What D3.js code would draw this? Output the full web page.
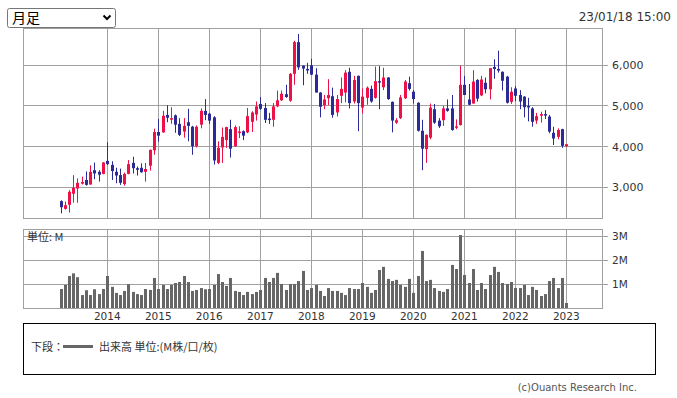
<!DOCTYPE html>
<meta charset="utf-8">
<style>
body { margin: 0; background: #fff; }
svg text { font-family: "DejaVu Sans", sans-serif; }
svg .jp { font-family: "Noto Sans CJK JP", sans-serif; }
</style>
<svg width="677" height="398"></svg>
<script src="https://cdnjs.cloudflare.com/ajax/libs/d3/7.8.5/d3.min.js"></script>
<script>

// monthly candles, Feb 2013 .. Jan 2023
var opens = [2660,2470,2570,2840,2970,3090,3180,3070,3420,3380,3330,
  3650,3550,3380,3300,3080,3330,3600,3470,3480,3380,3530,3910,
  4360,4350,4780,4680,4770,4560,4370,4600,4490,4010,4540,4880,
  4810,4720,3600,3980,4160,4430,4010,4350,4380,4350,4610,4790,
  5050,4950,4690,4660,4990,5140,5290,5130,5790,6570,5990,5910,
  6000,5770,5330,5020,5190,5240,4840,5250,5330,5840,5110,5740,
  4960,5200,5420,5200,5610,5460,5700,5100,4590,4700,5190,5560,
  5350,5080,4390,3940,4220,4920,4640,4650,4940,4940,4470,4530,
  5520,5160,5060,5640,5260,5570,5410,5960,5910,5840,5720,5100,
  5430,5270,5230,5000,4940,4640,4760,4800,4740,4340,4240,4430,
  4010];
var highs = [2680,2650,2930,3300,3220,3260,3390,3540,3610,3420,3620,
  4110,3640,3480,3460,3360,3670,3750,3510,3590,3600,3930,4440,
  4680,4880,5020,4970,4790,4700,4700,4930,4510,4520,4940,5170,
  4830,4750,4130,4470,4490,4660,4520,4500,4400,4950,4870,5110,
  5220,5070,4830,5070,5380,5380,5520,5810,6600,6770,6000,6060,
  6160,5930,5340,5270,5660,5450,5270,5700,5880,5940,5740,5750,
  5430,5480,5500,5970,5980,5940,5710,5110,4700,5270,5640,5720,
  5390,5090,4660,4300,5060,5050,4700,5000,5160,5270,4670,5990,
  5740,5540,5880,5660,5740,5700,5930,6150,6360,5850,5740,5460,
  5490,5390,5240,5200,4970,4830,4860,4900,4780,4490,4450,4440,
  4070];
var lows = [2360,2450,2380,2620,2620,3070,3040,3060,3200,3140,3320,
  3550,3180,3100,3060,3040,3320,3340,3290,3360,3140,3410,3800,
  4120,4340,4600,4560,4340,4260,4220,4130,3800,3980,4450,4650,
  4560,3560,3570,3600,3970,3730,3990,4210,4160,4330,4360,4640,
  4900,4580,4560,4490,4970,5120,5200,5100,5520,5890,5510,5790,
  5760,5330,4720,4920,5020,4710,4740,5070,5090,4940,5060,4380,
  4820,5030,5080,5180,4920,5390,5150,4350,4560,4680,5170,5380,
  5060,4370,3420,3600,4180,4560,4460,4510,4860,4390,4430,4520,
  5270,5020,5060,5110,5240,5310,5160,5670,5820,5380,5060,5050,
  5120,4920,4720,4620,4490,4560,4590,4680,4330,4040,4180,3970,
  3990];
var closes = [2510,2560,2890,2990,3110,3130,3060,3380,3340,3310,3610,
  3570,3400,3290,3110,3330,3570,3470,3430,3370,3450,3920,4360,
  4270,4760,4710,4700,4540,4290,4510,4510,4010,4490,4880,4780,
  4640,3660,3970,4240,4480,3950,4480,4370,4270,4750,4840,4990,
  4930,4660,4670,4990,5140,5300,5220,5790,6570,5950,5920,5890,
  5770,5330,4980,5160,5270,4780,5170,5420,5820,5070,5640,5070,
  5230,5450,5110,5610,5580,5700,5170,4640,4650,5210,5600,5420,
  5170,4390,3950,4290,4960,4590,4500,4940,4880,4410,4500,5520,
  5270,5030,5600,5180,5650,5410,5930,5910,5870,5620,5080,5350,
  5250,5110,4970,4970,4610,4750,4800,4770,4370,4200,4410,4020,
  4060];
// volume, millions
var volumes = [0.80,0.97,1.34,1.45,1.29,0.55,0.75,0.55,0.79,0.59,0.80,
  1.34,0.89,0.64,0.55,0.72,1.00,0.68,0.59,0.55,0.80,0.76,1.26,
  0.80,0.97,0.80,0.97,1.05,1.09,1.34,1.09,0.72,0.76,0.84,0.79,
  0.80,0.97,1.42,1.09,0.93,1.26,0.72,0.68,0.55,0.68,0.59,0.68,
  0.76,1.26,1.09,1.26,1.47,1.01,0.76,1.01,1.01,1.13,1.55,0.76,
  0.84,0.97,0.72,0.51,0.84,0.72,0.72,0.64,0.55,0.84,0.80,0.80,
  1.05,0.89,0.64,0.76,1.59,1.72,1.22,1.13,1.18,0.97,0.89,1.22,
  0.64,1.34,2.38,1.13,1.18,0.84,0.72,0.68,0.80,1.80,1.63,3.04,
  1.38,1.05,1.63,0.76,1.05,0.80,1.38,1.72,1.51,1.05,1.01,1.09,
  0.84,0.84,0.97,0.55,0.89,0.76,0.51,0.59,1.13,1.26,0.84,1.26,
  0.22];

var years = [2014,2015,2016,2017,2018,2019,2020,2021,2022,2023];
var priceTicks = [3000,4000,5000,6000];
var volTicks = [1,2,3];

var months = d3.timeMonth.range(new Date(2013, 1, 1), new Date(2023, 1, 1));
var data = months.map((m, i) => ({date: m, o: opens[i], h: highs[i], l: lows[i], c: closes[i], v: volumes[i]}));

var svg = d3.select("svg"),
    grid = "#a0a0a0",
    up = "#ee1148",
    down = "#2b2b98";

var x = d3.scaleTime()
    .domain([new Date(2014, 0, 1), new Date(2023, 0, 1)])
    .range([107.3, 566.3]);
var y = d3.scaleLinear().domain([3000, 6000]).range([187.3, 65.3]);
var yv = d3.scaleLinear().domain([0, 3]).range([308.3, 236]);

var px = v => Math.floor(v) + 0.5;

// ---- header
var sel = svg.append("g");
sel.append("rect").attr("x", 7.5).attr("y", 8.5).attr("width", 108).attr("height", 19)
  .attr("rx", 2).attr("fill", "#fff").attr("stroke", "#767676");
sel.append("text").attr("class", "jp").attr("x", 12).attr("y", 23)
  .attr("font-size", 14).attr("fill", "#000").text("月足");
sel.append("path").attr("d", "M103.5,15.5 L107,19 L110.5,15.5")
  .attr("fill", "none").attr("stroke", "#000").attr("stroke-width", 2);

svg.append("text").attr("x", 671).attr("y", 21).attr("text-anchor", "end")
  .attr("font-size", 12).attr("fill", "#333").text("23/01/18 15:00");

// ---- price panel
var pg = svg.append("g");
pg.selectAll(".hg").data(priceTicks).join("line")
  .attr("x1", 23).attr("x2", 608)
  .attr("y1", d => px(y(d))).attr("y2", d => px(y(d)))
  .attr("stroke", grid);
pg.selectAll(".vg").data(years).join("line")
  .attr("x1", d => px(x(new Date(d, 0, 1)))).attr("x2", d => px(x(new Date(d, 0, 1))))
  .attr("y1", 28).attr("y2", 218)
  .attr("stroke", grid);
pg.append("rect").attr("x", 23.5).attr("y", 28.5).attr("width", 579).attr("height", 190)
  .attr("fill", "none").attr("stroke", grid);
pg.selectAll(".pl").data(priceTicks).join("text")
  .attr("x", 612).attr("y", d => y(d) + 4)
  .attr("font-size", 11).attr("fill", "#333")
  .text(d => d3.format(",")(d));

var candle = pg.selectAll(".c").data(data).join("g")
  .attr("fill", d => d.c >= d.o ? up : down)
  .attr("stroke", d => d.c >= d.o ? up : down);
candle.append("line")
  .attr("x1", d => Math.round(x(d.date)) + 0.5).attr("x2", d => Math.round(x(d.date)) + 0.5)
  .attr("y1", d => y(d.h)).attr("y2", d => y(d.l));
candle.append("rect")
  .attr("stroke", "none")
  .attr("x", d => Math.round(x(d.date)) - 1).attr("width", 3)
  .attr("y", d => y(Math.max(d.o, d.c)))
  .attr("height", d => Math.max(1.5, Math.abs(y(d.o) - y(d.c))));

// ---- volume panel
var vg = svg.append("g");
vg.selectAll(".hg").data(volTicks).join("line")
  .attr("x1", 23).attr("x2", 608)
  .attr("y1", d => px(yv(d))).attr("y2", d => px(yv(d)))
  .attr("stroke", grid);
vg.selectAll(".vg").data(years).join("line")
  .attr("x1", d => px(x(new Date(d, 0, 1)))).attr("x2", d => px(x(new Date(d, 0, 1))))
  .attr("y1", 229).attr("y2", 308)
  .attr("stroke", grid);
vg.selectAll(".b").data(data).join("rect")
  .attr("x", d => Math.round(x(d.date)) - 1).attr("width", 3)
  .attr("y", d => yv(d.v)).attr("height", d => yv(0) - yv(d.v))
  .attr("fill", "#666");
vg.append("rect").attr("x", 23.5).attr("y", 229.5).attr("width", 579).attr("height", 79)
  .attr("fill", "none").attr("stroke", grid);
vg.selectAll(".vl").data(volTicks).join("text")
  .attr("x", 612).attr("y", d => yv(d) + 4)
  .attr("font-size", 10.5).attr("fill", "#333")
  .text(d => d + "M");
vg.append("text").attr("class", "jp").attr("x", 27).attr("y", 241)
  .attr("font-size", 11).attr("fill", "#333").text("単位: M");

// year axis labels
svg.selectAll(".yl").data(years).join("text")
  .attr("x", d => x(new Date(d, 0, 1))).attr("y", 320)
  .attr("text-anchor", "middle").attr("font-size", 10.5).attr("fill", "#333")
  .text(d => d);

// ---- legend
var lg = svg.append("g");
lg.append("rect").attr("x", 23.5).attr("y", 323.5).attr("width", 632).attr("height", 51)
  .attr("fill", "none").attr("stroke", "#000");
lg.append("text").attr("class", "jp").attr("x", 31).attr("y", 351)
  .attr("font-size", 11).attr("fill", "#333").text("下段：");
lg.append("line").attr("x1", 63).attr("x2", 93).attr("y1", 346.5).attr("y2", 346.5)
  .attr("stroke", "#666").attr("stroke-width", 3);
lg.append("text").attr("class", "jp").attr("x", 99).attr("y", 351)
  .attr("font-size", 11).attr("fill", "#333").text("出来高 単位:(M株/口/枚)");

svg.append("text").attr("x", 637).attr("y", 391).attr("text-anchor", "end")
  .attr("font-family", "Liberation Sans").attr("font-size", 10).attr("fill", "#555")
  .text("(c)Ouants Research Inc.");

</script>
